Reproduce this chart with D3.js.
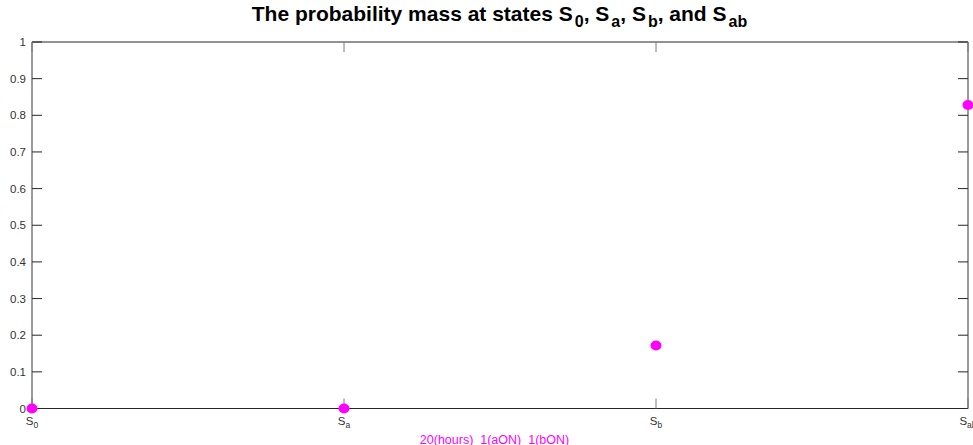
<!DOCTYPE html>
<html><head><meta charset="utf-8">
<script src="https://cdn.jsdelivr.net/npm/d3@7"></script>
<style>body{margin:0;background:#fff;} svg{display:block;font-family:"Liberation Sans",Arial,sans-serif;}</style>
</head><body>
<svg id="c" width="973" height="445"></svg>
<script>
const categories = ["0", "a", "b", "ab"];
const values = [0, 0, 0.172, 0.828];
const yTicks = [0, 0.1, 0.2, 0.3, 0.4, 0.5, 0.6, 0.7, 0.8, 0.9, 1];
const xLabelText = "20(hours)\u00a0\u00a01(aON)\u00a0\u00a01(bON)";

const svg = d3.select("#c");
const L = 32, R = 968, T = 42, B = 408.5;
const x = d3.scalePoint().domain(categories).range([L, R]);
const y = d3.scaleLinear().domain([0, 1]).range([B, T]);
const axisColor = "#262626";
const sideColor = "#7a7a7a";
const labelColor = "#333";

// spines
svg.append("line").attr("x1", L).attr("x2", R).attr("y1", T).attr("y2", T).attr("stroke", axisColor);
svg.append("line").attr("x1", L).attr("x2", R).attr("y1", B).attr("y2", B).attr("stroke", axisColor);
svg.append("line").attr("x1", L).attr("x2", L).attr("y1", T).attr("y2", B).attr("stroke", sideColor).attr("stroke-width", 1.5);
svg.append("line").attr("x1", R).attr("x2", R).attr("y1", T).attr("y2", B).attr("stroke", sideColor).attr("stroke-width", 1.5);

const gl = svg.append("g");
yTicks.forEach(t => {
  gl.append("line").attr("x1", L).attr("x2", L + 10).attr("y1", y(t)).attr("y2", y(t)).attr("stroke", axisColor);
  gl.append("line").attr("x1", R).attr("x2", R - 10).attr("y1", y(t)).attr("y2", y(t)).attr("stroke", axisColor);
  gl.append("text").attr("x", L - 6).attr("y", y(t)).attr("dy", "0.35em").attr("text-anchor", "end")
    .attr("font-size", 11.5).attr("fill", labelColor).text(d3.format("")(t));
});
categories.forEach(c => {
  gl.append("line").attr("x1", x(c)).attr("x2", x(c)).attr("y1", B).attr("y2", B - 10).attr("stroke", sideColor);
  gl.append("line").attr("x1", x(c)).attr("x2", x(c)).attr("y1", T).attr("y2", T + 10).attr("stroke", sideColor);
  const tx = gl.append("text").attr("x", x(c)).attr("y", B + 16.5).attr("text-anchor", "middle")
    .attr("font-size", 11.5).attr("fill", labelColor);
  tx.append("tspan").text("S");
  tx.append("tspan").attr("dy", 3).attr("font-size", 8.5).text(c);
});

svg.append("g").selectAll("ellipse").data(values).join("ellipse")
  .attr("cx", (d, i) => x(categories[i])).attr("cy", d => y(d))
  .attr("rx", 5.5).attr("ry", 5).attr("fill", "#ff00ff");

// title
const title = svg.append("text").attr("x", 499.5).attr("y", 27).attr("text-anchor", "middle")
  .attr("font-size", 21).attr("font-weight", "bold").attr("fill", "#000");
const parts = [["The probability mass at states S", "0"], [", S", "a"], [", S", "b"], [", and S", "ab"]];
parts.forEach(([m, s]) => {
  title.append("tspan").attr("dy", title.selectAll("tspan").size() ? -6 : 0).text(m);
  title.append("tspan").attr("dx", 2).attr("dy", 6).attr("font-size", 16).text(s);
});

svg.append("text").attr("x", 494.5).attr("y", 443.5).attr("text-anchor", "middle")
  .attr("font-size", 12.5).attr("fill", "#ff00ff").text(xLabelText);
</script>
</body></html>
